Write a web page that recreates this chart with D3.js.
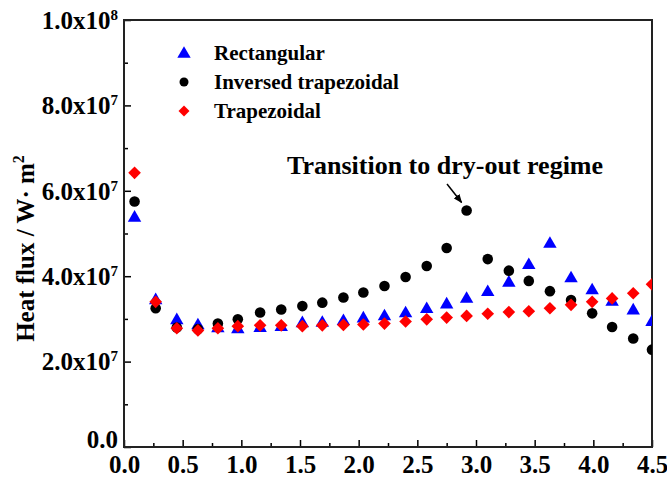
<!DOCTYPE html>
<html>
<head>
<meta charset="utf-8">
<script src="https://cdn.jsdelivr.net/npm/d3@7"></script>
<style>
  html, body { margin: 0; padding: 0; background: #fff; }
  svg { display: block; }
  text { font-family: "Liberation Serif", "Times New Roman", serif; font-weight: bold; fill: #000; }
</style>
</head>
<body>
<svg id="chart" width="667" height="483"></svg>
<script>
// ---- data ----
const xValues = [0.09, 0.27, 0.45, 0.63, 0.80, 0.97, 1.16, 1.34, 1.52, 1.69, 1.87, 2.04, 2.22,
                 2.40, 2.58, 2.75, 2.92, 3.10, 3.28, 3.45, 3.63, 3.81, 3.99, 4.16, 4.34, 4.50];
const rectangular = [5.39, 3.46, 2.99, 2.87, 2.80, 2.78, 2.81, 2.83, 2.92, 2.93, 2.97, 3.03, 3.08,
                     3.15, 3.25, 3.36, 3.49, 3.65, 3.87, 4.28, 4.78, 3.97, 3.69, 3.42, 3.22, 2.95];
const inversedTrapezoidal = [5.75, 3.25, 2.80, 2.76, 2.89, 2.99, 3.15, 3.22, 3.30, 3.38, 3.50, 3.62, 3.77,
                             3.98, 4.24, 4.66, 5.54, 4.40, 4.13, 3.89, 3.65, 3.44, 3.13, 2.81, 2.54, 2.28];
const trapezoidal = [6.42, 3.40, 2.78, 2.73, 2.78, 2.83, 2.85, 2.85, 2.83, 2.85, 2.86, 2.87, 2.89,
                     2.94, 2.99, 3.03, 3.07, 3.12, 3.16, 3.18, 3.25, 3.33, 3.40, 3.48, 3.60, 3.81];
const seriesNames = ["Rectangular", "Inversed trapezoidal", "Trapezoidal"];
const seriesColors = ["#0000ff", "#000000", "#ff0000"];
const xTicks = [0.0, 0.5, 1.0, 1.5, 2.0, 2.5, 3.0, 3.5, 4.0, 4.5];
const xTickLabels = ["0.0", "0.5", "1.0", "1.5", "2.0", "2.5", "3.0", "3.5", "4.0", "4.5"];
const yTicks = [0, 2e7, 4e7, 6e7, 8e7, 1e8];
const yTickMantissa = ["0.0", "2.0x10", "4.0x10", "6.0x10", "8.0x10", "1.0x10"];
const yTickExponent = ["", "7", "7", "7", "7", "8"];
const annotationText = "Transition to dry-out regime";
const valueUnit = 1e7;

// ---- layout ----
const svg = d3.select("#chart");
const L = 124, R = 652, T = 20, B = 447;
const x = d3.scaleLinear().domain([0, 4.5]).range([L, R]);
const y = d3.scaleLinear().domain([0, 1e8]).range([B, T]);

svg.append("defs").append("clipPath").attr("id", "plotclip")
  .append("rect").attr("x", L).attr("y", T).attr("width", R - L).attr("height", B - T);

// minor ticks
const xMinor = d3.range(0.25, 4.5, 0.5);
const yMinor = d3.range(1e7, 1e8, 2e7);

const gx = svg.append("g").attr("transform", `translate(0,${B})`)
  .call(d3.axisBottom(x).tickValues(xTicks).tickFormat((d, i) => xTickLabels[i]).tickSizeInner(-7).tickSizeOuter(0).tickPadding(8));
gx.select(".domain").remove();
gx.selectAll("line").attr("stroke", "#000").attr("stroke-width", 1.5);
gx.selectAll("text").attr("font-size", 25).attr("font-family", "Liberation Serif").attr("font-weight", "bold").attr("fill", "#000");
svg.append("g").attr("transform", `translate(0,${B})`)
  .call(d3.axisBottom(x).tickValues(xMinor).tickFormat("").tickSizeInner(-4).tickSizeOuter(0))
  .call(g => g.select(".domain").remove())
  .selectAll("line").attr("stroke", "#000").attr("stroke-width", 1.5);

const gy = svg.append("g").attr("transform", `translate(${L},0)`)
  .call(d3.axisLeft(y).tickValues(yTicks).tickFormat("").tickSizeInner(-7).tickSizeOuter(0));
gy.select(".domain").remove();
gy.selectAll("line").attr("stroke", "#000").attr("stroke-width", 1.5);
svg.append("g").attr("transform", `translate(${L},0)`)
  .call(d3.axisLeft(y).tickValues(yMinor).tickFormat("").tickSizeInner(-4).tickSizeOuter(0))
  .call(g => g.select(".domain").remove())
  .selectAll("line").attr("stroke", "#000").attr("stroke-width", 1.5);

// y tick labels with superscripts
yTicks.forEach((v, i) => {
  const t = svg.append("text")
    .attr("x", 118).attr("y", y(v)).attr("dy", i === 0 ? "0.05em" : "0.35em")
    .attr("text-anchor", "end").attr("font-size", 25);
  t.append("tspan").text(yTickMantissa[i]);
  if (yTickExponent[i]) {
    t.append("tspan").attr("dy", "-0.6em").attr("font-size", 15).text(yTickExponent[i]);
  }
});

// frame
svg.append("rect").attr("x", L).attr("y", T).attr("width", R - L).attr("height", B - T)
  .attr("fill", "none").attr("stroke", "#222").attr("stroke-width", 2);

// y axis title
const yt = svg.append("text")
  .attr("transform", `translate(34,${(T + B) / 2 + 15}) rotate(-90)`)
  .attr("text-anchor", "middle").attr("font-size", 25);
yt.append("tspan").text("Heat flux / W\u00B7 m");
yt.append("tspan").attr("dy", "-0.6em").attr("font-size", 16).text("2");

// markers
const plot = svg.append("g").attr("clip-path", "url(#plotclip)");
const triSym = d3.symbol().type(d3.symbolTriangle).size(78);
const dmdSym = d3.symbol().type(d3.symbolSquare).size(80);

function drawTriangles(g, data, color) {
  g.selectAll(null).data(data).enter().append("path")
    .attr("d", triSym)
    .attr("transform", (d, i) => `translate(${x(xValues[i])},${y(d * valueUnit) + 1})`)
    .attr("fill", color);
}
function drawCircles(g, data, color) {
  g.selectAll(null).data(data).enter().append("circle")
    .attr("cx", (d, i) => x(xValues[i])).attr("cy", d => y(d * valueUnit))
    .attr("r", 5.3).attr("fill", color);
}
function drawDiamonds(g, data, color) {
  g.selectAll(null).data(data).enter().append("path")
    .attr("d", dmdSym)
    .attr("transform", (d, i) => `translate(${x(xValues[i])},${y(d * valueUnit)}) rotate(45)`)
    .attr("fill", color);
}
drawTriangles(plot.append("g"), rectangular, seriesColors[0]);
drawCircles(plot.append("g"), inversedTrapezoidal, seriesColors[1]);
drawDiamonds(plot.append("g"), trapezoidal, seriesColors[2]);

// legend
const legY = [53, 82, 111];
const lg = svg.append("g");
lg.append("path").attr("d", triSym).attr("transform", `translate(184,${legY[0] + 1})`).attr("fill", seriesColors[0]);
lg.append("circle").attr("cx", 184).attr("cy", legY[1]).attr("r", 4.5).attr("fill", seriesColors[1]);
lg.append("path").attr("d", d3.symbol().type(d3.symbolSquare).size(60)).attr("transform", `translate(184,${legY[2]}) rotate(45)`).attr("fill", seriesColors[2]);
seriesNames.forEach((n, i) => {
  lg.append("text").attr("x", 214).attr("y", legY[i]).attr("dy", "0.35em")
    .attr("font-size", 21).text(n);
});

// annotation
svg.append("text").attr("x", 287).attr("y", 174).attr("font-size", 26).text(annotationText);
svg.append("defs").append("marker").attr("id", "arrow")
  .attr("viewBox", "0 0 10 10").attr("refX", 9).attr("refY", 5)
  .attr("markerWidth", 6).attr("markerHeight", 6).attr("orient", "auto")
  .append("path").attr("d", "M0,1 L10,5 L0,9 Z").attr("fill", "#000");
svg.append("line")
  .attr("x1", 447).attr("y1", 184)
  .attr("x2", x(xValues[16]) - 5).attr("y2", y(inversedTrapezoidal[16] * valueUnit) - 8)
  .attr("stroke", "#000").attr("stroke-width", 1.5).attr("marker-end", "url(#arrow)");
</script>
</body>
</html>
